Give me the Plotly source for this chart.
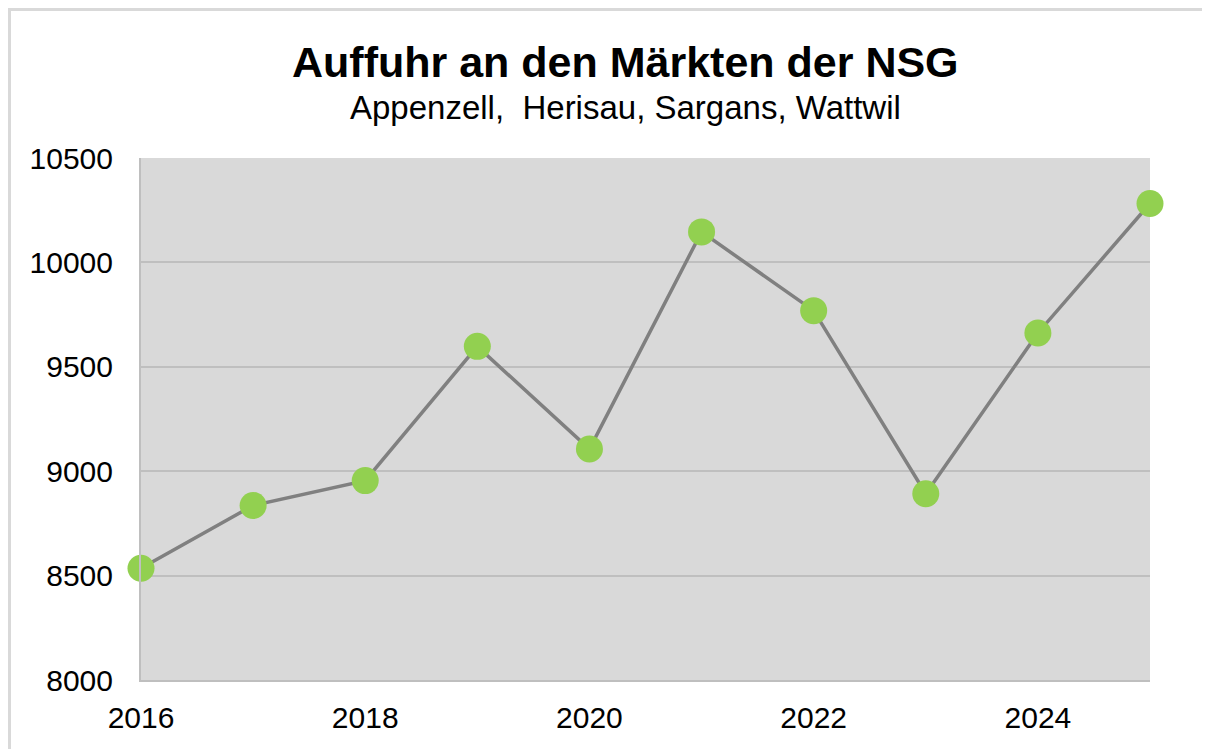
import plotly.graph_objects as go

years = [2016, 2017, 2018, 2019, 2020, 2021, 2022, 2023, 2024, 2025]
values = [8535, 8836, 8955, 9598, 9106, 10146, 9769, 8892, 9662, 10282]
x_ticks = [2016, 2018, 2020, 2022, 2024]
y_ticks = [8000, 8500, 9000, 9500, 10000, 10500]
title = "Auffuhr an den Märkten der NSG"
subtitle = "Appenzell,  Herisau, Sargans, Wattwil"

OFF = 8  # page body margin
W, H = 1210 - OFF, 749 - OFF
L, T = 141 - OFF, 158 - OFF
pw, ph = 1150 - 141, 680 - 158
R, B = W - L - pw, H - T - ph

def px(xp):
    return (xp - OFF - L) / pw

def py(yp):
    return (T + ph - (yp - OFF)) / ph

fig = go.Figure()
fig.add_trace(go.Scatter(
    x=years, y=values, mode="lines+markers",
    line=dict(color="#808080", width=3.5),
    marker=dict(color="#92D050", size=27, line=dict(width=0)),
    cliponaxis=False, showlegend=False,
))

font = "Liberation Sans, Arial, sans-serif"
bx0, by0, bx1, by1 = px(9.5), py(800), px(1300), py(9.5)
fig.update_layout(
    width=W, height=H,
    margin=dict(l=L, r=R, t=T, b=B, autoexpand=False),
    paper_bgcolor="white", plot_bgcolor="#D9D9D9",
    font=dict(family=font, color="#000000"),
    xaxis=dict(range=[2016, 2025], tickvals=x_ticks, ticktext=[str(v) for v in x_ticks],
               showgrid=False, zeroline=False, showline=True, linecolor="#BFBFBF", linewidth=2,
               tickfont=dict(size=30, family=font, color="#000"), ticks="", ticklabelstandoff=10),
    yaxis=dict(range=[8000, 10500], tickvals=y_ticks, ticktext=[str(v) for v in y_ticks],
               showgrid=True, gridcolor="#BFBFBF", gridwidth=2,
               zeroline=False, showline=True, linecolor="#BFBFBF", linewidth=2,
               tickfont=dict(size=30, family=font, color="#000"), ticks="", ticklabelstandoff=20),
    annotations=[
        dict(text="<b>" + title + "</b>", x=px(625), y=py(62), xref="paper", yref="paper",
             xanchor="center", yanchor="middle", showarrow=False,
             font=dict(size=43, family=font, color="#000")),
        dict(text=subtitle, x=px(625), y=py(107), xref="paper", yref="paper",
             xanchor="center", yanchor="middle", showarrow=False,
             font=dict(size=33, family=font, color="#000")),
    ],
    shapes=[dict(type="path", xref="paper", yref="paper",
                 path=f"M {bx0},{by0} L {bx0},{by1} L {bx1},{by1}",
                 line=dict(color="#D9D9D9", width=3), layer="below")],
)
fig.write_html("out.html")
